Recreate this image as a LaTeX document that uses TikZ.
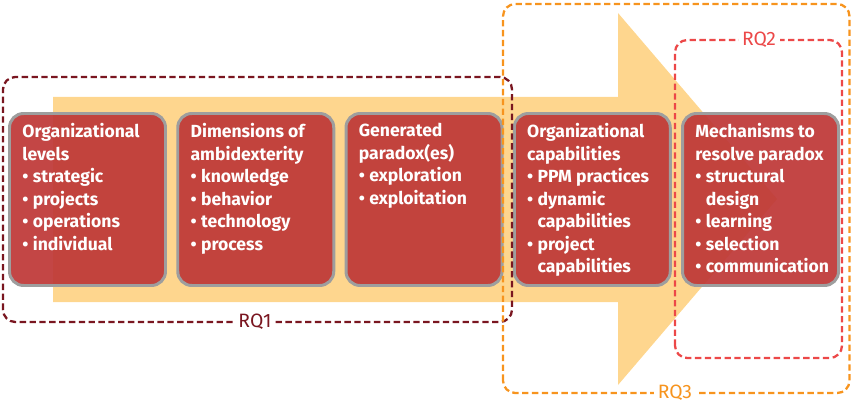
\documentclass[tikz,border=0pt]{standalone}
\usepackage{fontspec}
\setmainfont{Fira Sans}
\usetikzlibrary{positioning}
\definecolor{rqdark}{RGB}{122,22,32}
\definecolor{rqred}{RGB}{236,72,72}
\definecolor{rqorange}{RGB}{247,148,30}
\definecolor{boxred}{RGB}{190,56,55}
\definecolor{boxrim}{RGB}{158,158,158}
\definecolor{arrowfill}{RGB}{254,214,142}
\tikzset{
  stagebox/.style={draw=boxrim,fill=boxred,fill opacity=0.93,line width=1.7pt,
                   rounded corners=8pt,minimum width=3.12cm,minimum height=3.44cm,inner sep=0pt},
  stagetext/.style={anchor=north west,text=white,align=left,inner sep=0pt,
                    font=\bfseries\fontsize{10}{12.8}\selectfont},
  rqframe/.style={dash pattern=on 3.6pt off 2pt,line width=1.3pt,rounded corners=7pt},
  rqlabel/.style={fill=white,inner xsep=2pt,inner ysep=0pt,font=\fontsize{11}{13}\selectfont},
}
\newcommand{\itm}{\textbullet\hspace{2.5pt}}

\begin{document}
\begin{tikzpicture}
\useasboundingbox (0,0) rectangle (17.04,8.08);

% ============ big arrow behind the stages ============
\fill[arrowfill] (1.06,6.14) -- (12.36,6.14) -- (12.36,7.82) -- (15.54,4.10)
  -- (12.36,0.38) -- (12.36,2.04) -- (1.06,2.04) -- cycle;

% ============ five stages ============
\foreach \i/\txt in {%
  0/{Organizational\\levels\\\itm strategic\\\itm projects\\\itm operations\\\itm individual},
  1/{Dimensions of\\ambidexterity\\\itm knowledge\\\itm behavior\\\itm technology\\\itm process},
  2/{Generated\\paradox(es)\\\itm exploration\\\itm exploitation},
  3/{Organizational\\capabilities\\\itm PPM practices\\\itm dynamic\\\phantom{\itm}capabilities\\\itm project\\\phantom{\itm}capabilities},
  4/{Mechanisms to\\resolve paradox\\\itm structural\\\phantom{\itm}design\\\itm learning\\\itm selection\\\itm communication}} {
  \node[stagebox] (b\i) at (1.75+3.365*\i,4.09) {};
  \node[stagetext] (t\i) at ([shift={(0.28,-0.22)}]b\i.north west) {\txt};
}

% ============ research questions ============
\draw[rqframe,rqdark] (0.06,1.64) rectangle (10.24,6.54);
\node[rqlabel,text=rqdark] (rq1) at (5.10,1.64) {RQ1};
\draw[rqframe,rqorange] (10.06,0.22) rectangle (16.99,8.00);
\node[rqlabel,text=rqorange] (rq3) at (13.50,0.22) {RQ3};
\draw[rqframe,rqred] (13.50,0.92) rectangle (16.84,7.28);
\node[rqlabel,text=rqred] (rq2) at (15.18,7.28) {RQ2};
\end{tikzpicture}
\end{document}
